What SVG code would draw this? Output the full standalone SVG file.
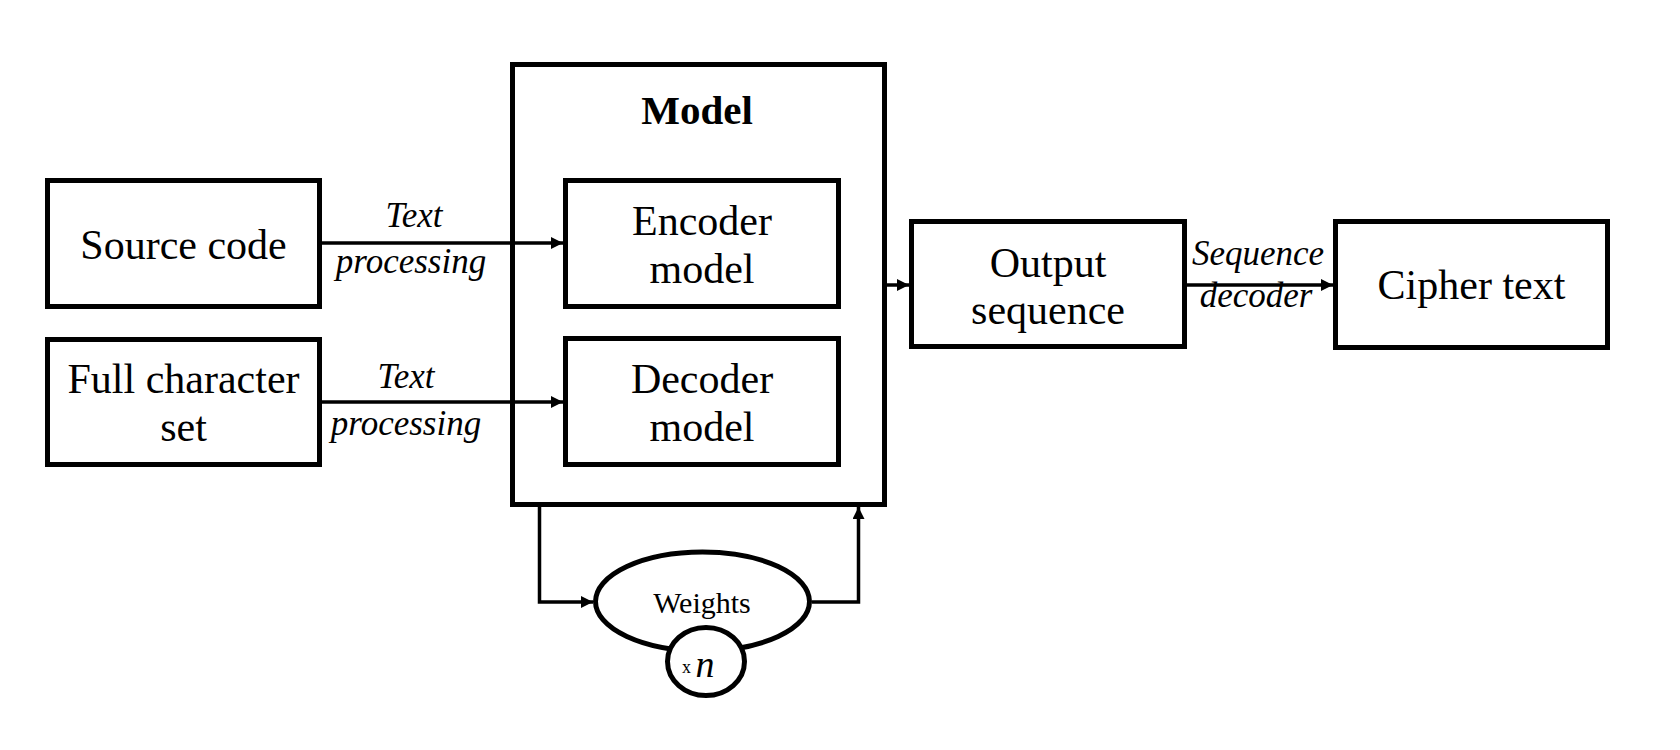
<svg xmlns="http://www.w3.org/2000/svg" width="1680" height="750" viewBox="0 0 1680 750">
<style>
.box{fill:#fff;stroke:#000;stroke-width:5}
.conn{fill:none;stroke:#000;stroke-width:3.5}
.t{font-family:"Liberation Serif","Times New Roman",serif;font-size:42px;fill:#000;text-anchor:middle}
.lbl{font-family:"Liberation Serif","Times New Roman",serif;font-size:35px;font-style:italic;fill:#000;text-anchor:middle}
</style>
<defs>
<marker id="ah" markerUnits="userSpaceOnUse" markerWidth="14" markerHeight="13" refX="12" refY="6" orient="auto">
<path d="M0,0 L12,6 L0,12 z" fill="#000"/>
</marker>
</defs>
<rect width="1680" height="750" fill="#fff"/>
<g id="model">
<rect class="box" x="512.5" y="64.5" width="372" height="440"/>
<text x="697" y="124" class="t" style="font-weight:bold;font-size:41px">Model</text>
</g>
<g id="source-code">
<rect class="box" x="47.5" y="180.5" width="272" height="126"/>
<text x="183.5" y="259" class="t">Source code</text>
</g>
<g id="full-character-set">
<rect class="box" x="47.5" y="339.5" width="272" height="125"/>
<text x="183.5" y="393" class="t">Full character</text>
<text x="183.5" y="441" class="t">set</text>
</g>
<g id="encoder-model">
<rect class="box" x="565.5" y="180.5" width="273" height="126"/>
<text x="702" y="235" class="t">Encoder</text>
<text x="702" y="283" class="t">model</text>
</g>
<g id="decoder-model">
<rect class="box" x="565.5" y="338.5" width="273" height="126"/>
<text x="702" y="393" class="t">Decoder</text>
<text x="702" y="441" class="t">model</text>
</g>
<g id="output-sequence">
<rect class="box" x="911.5" y="221.5" width="273" height="125"/>
<text x="1048" y="277" class="t">Output</text>
<text x="1048" y="324" class="t">sequence</text>
</g>
<g id="cipher-text">
<rect class="box" x="1335.5" y="221.5" width="272" height="126"/>
<text x="1471.5" y="299" class="t">Cipher text</text>
</g>
<g id="connectors">
<line class="conn" x1="322" y1="243" x2="563" y2="243" marker-end="url(#ah)"/>
<line class="conn" x1="322" y1="402" x2="563" y2="402" marker-end="url(#ah)"/>
<line class="conn" x1="887" y1="285" x2="909" y2="285" marker-end="url(#ah)"/>
<line class="conn" x1="1187" y1="285" x2="1333" y2="285" marker-end="url(#ah)"/>
<path class="conn" d="M539.5,507 V602 H593" marker-end="url(#ah)"/>
<path class="conn" d="M812,602 H858.5 V507" marker-end="url(#ah)"/>
<text x="414" y="227" class="lbl">Text</text>
<text x="411" y="273" class="lbl">processing</text>
<text x="406" y="388" class="lbl">Text</text>
<text x="406" y="435" class="lbl">processing</text>
<text x="1258" y="265" class="lbl">Sequence</text>
<text x="1256" y="307" class="lbl">decoder</text>
</g>
<g id="weights">
<ellipse class="box" cx="702.5" cy="601.5" rx="107" ry="49.5"/>
<text x="702" y="613" class="t" style="font-size:30px">Weights</text>
</g>
<g id="times-n">
<ellipse class="box" cx="706" cy="661.5" rx="38.5" ry="34"/>
<text x="686.5" y="673" class="t" style="font-size:18px">x</text>
<text x="705" y="677" class="t" style="font-size:38px;font-style:italic">n</text>
</g>
</svg>
